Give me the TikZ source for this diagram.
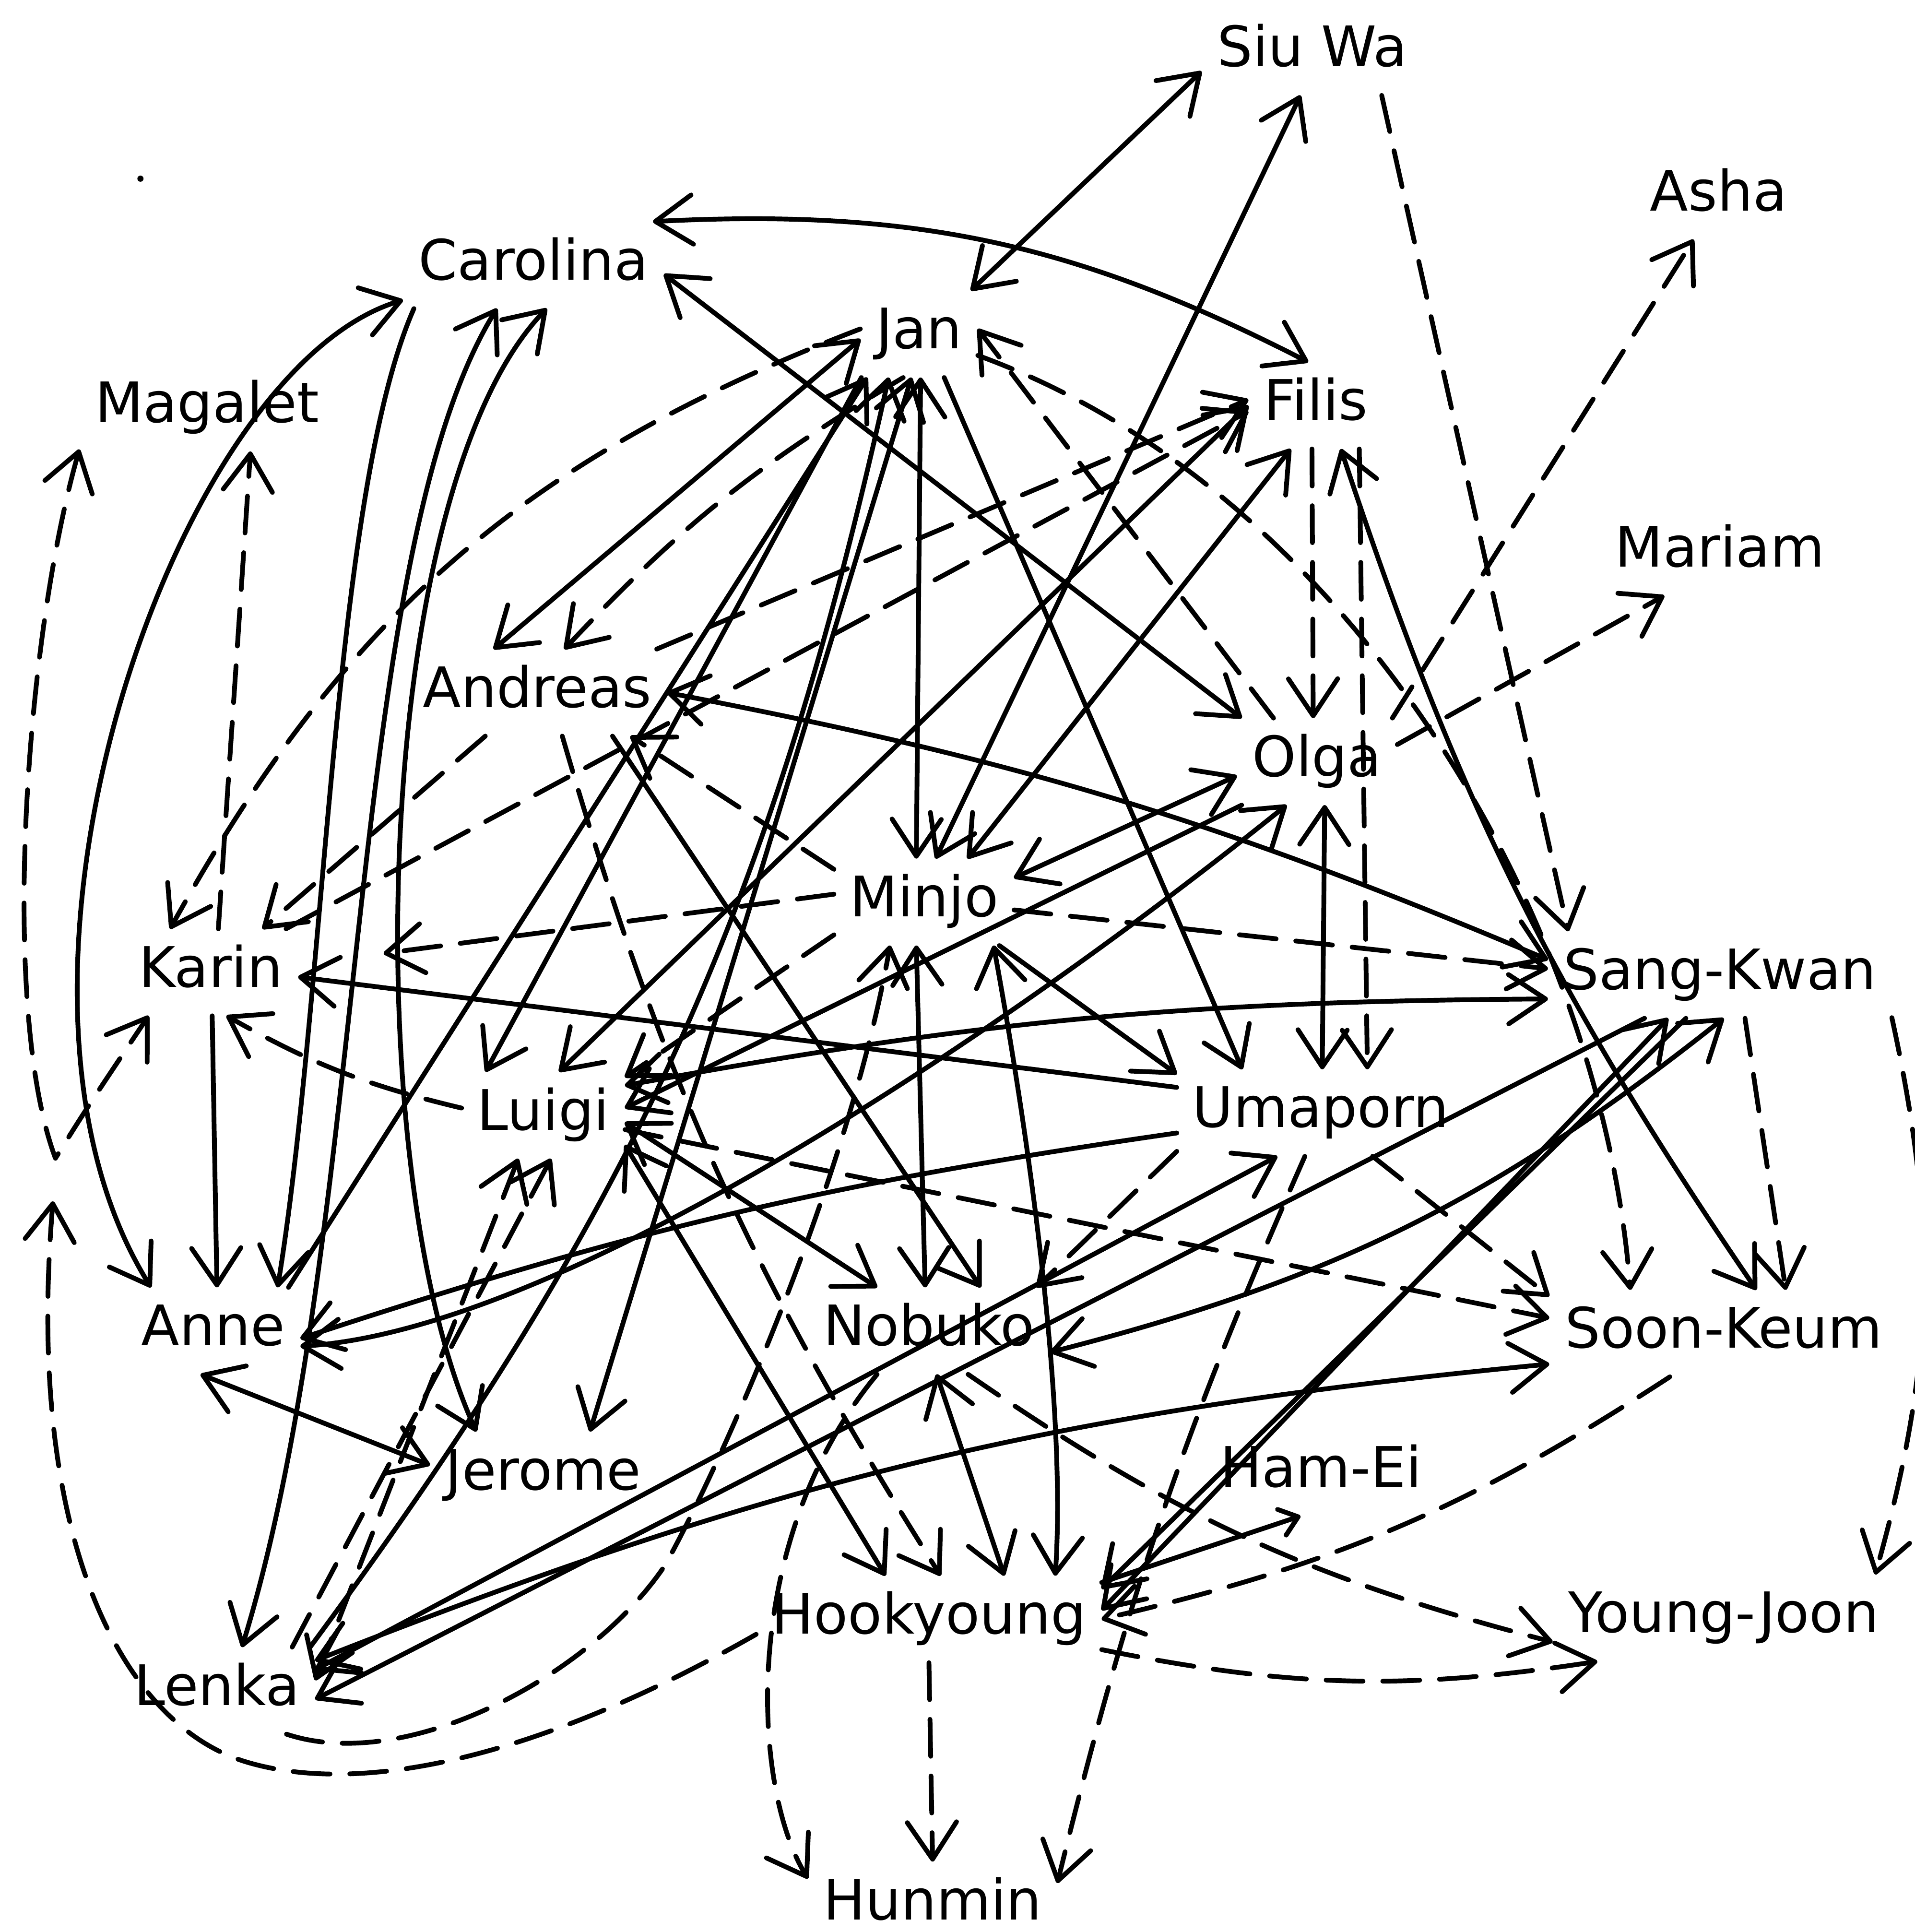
\documentclass[tikz,border=0pt]{standalone}
\usepackage{fontspec}
\setmainfont{DejaVu Sans}
\usepackage{tikz}
\usetikzlibrary{arrows.meta}

\tikzset{
  person/.style={anchor=base,inner sep=1.2mm,text height=3.45mm,text depth=1.07mm,
    font=\fontsize{12.9}{15}\selectfont},
  sline/.style={line width=1.1pt,line cap=round,line join=round},
  dline/.style={sline,dash pattern=on 3mm off 1.6mm},
  small tip/.style={>={Straight Barb[length=1.4mm,width=2.2mm,round]}},
}

\begin{document}
\begin{tikzpicture}[x=0.1mm,y=-0.1mm,>={Straight Barb[length=3mm,width=4mm,round]}]
    \useasboundingbox (0,0) rectangle (1554,1568);

    % names, placed on their base lines
    \node[person] (siuwa)     at (1065,54)   {Siu Wa};
    \node[person] (asha)      at (1395,171)  {Asha};
    \node[person] (carolina)  at (433,227)   {Carolina};
    \node[person] (jan)       at (746,283)   {Jan};
    \node[person] (magalet)   at (168,343)   {Magalet};
    \node[person] (filis)     at (1068,341)  {Filis};
    \node[person] (mariam)    at (1396,460)  {Mariam};
    \node[person] (andreas)   at (436,574)   {Andreas};
    \node[person] (olga)      at (1069,630)  {Olga};
    \node[person] (minjo)     at (750,744)   {Minjo};
    \node[person] (karin)     at (171,801)   {Karin};
    \node[person] (sangkwan)  at (1396,803)  {Sang-Kwan};
    \node[person] (luigi)     at (441,917)   {Luigi};
    \node[person] (umaporn)   at (1072,915)  {Umaporn};
    \node[person] (anne)      at (173,1092)  {Anne};
    \node[person] (nobuko)    at (754,1092)  {Nobuko};
    \node[person] (soonkeum)  at (1399,1094) {Soon-Keum};
    \node[person] (jerome)    at (441,1209)  {Jerome};
    \node[person] (hamei)     at (1072,1207) {Ham-Ei};
    \node[person] (hookyoung) at (754,1326)  {Hookyoung};
    \node[person] (youngjoon) at (1399,1325) {Young-Joon};
    \node[person] (lenka)     at (176,1384)  {Lenka};
    \node[person] (hunmin)    at (757,1558)  {Hunmin};
    \coordinate (tipA) at (43,975);
    \fill (114,145) circle[radius=0.25mm];

    % solid choices
    \draw[sline,<->] (jan.40) -- (siuwa.190);
    \draw[sline,<->] (minjo.75) -- (siuwa.-105);
    \draw[sline,<->] (carolina.20) to[bend left=15] (filis.100);
    \draw[sline,<->] (carolina.-4) -- (olga.150);
    \draw[sline,<->] (carolina.-165) .. controls (140,300) and (-30,800) .. (anne.145);
    \draw[sline,<->] (carolina.-130) .. controls (280,450) and (300,1000) .. (lenka.60);
    \draw[sline,<->] (carolina.-73) .. controls (300,400) and (290,950) .. (jerome.147);
    \draw[sline,->] (carolina.-160) .. controls (270,400) and (265,800) .. (anne.34);
    \draw[sline,->] (karin.-88) -- (anne.85);
    \draw[sline,<->] (jan.-175) -- (andreas.135);
    \draw[sline,<->] (andreas.0) to[bend left=6] (sangkwan.175);
    \draw[sline,->] (andreas.-30) -- (nobuko.40);
    \draw[sline,<->] (luigi.-20) -- (hookyoung.135);
    \draw[sline,<->] (luigi.-5) -- (nobuko.140);
    \draw[sline,<->] (jan.-88) -- (minjo.100);
    \draw[sline,->] (jan.-143) -- (luigi.143);
    \draw[sline,<->] (jan.-100) -- (jerome.43);
    \draw[sline,->] (jan.-60) -- (umaporn.151);
    \draw[sline,->] (anne.30) -- (jan.-140);
    \draw[sline,->] (lenka.25) to[bend right=12] (jan.-125);
    \draw[sline,<->] (luigi.70) -- (filis.180);
    \draw[sline,<->] (olga.-170) -- (minjo.15);
    \draw[sline,<->] (anne.-10) .. controls (450,1080) and (800,850) .. (olga.-125);
    \draw[sline,<->] (lenka.12) -- (umaporn.-135);
    \draw[sline,->] (sangkwan.-150) -- (lenka.-5);
    \draw[sline,<->] (lenka.17) to[bend left=8] (soonkeum.-170);
    \draw[sline,<->] (nobuko.-10) to[bend right=12] (sangkwan.-85);
    \draw[sline,<->] (hookyoung.3) -- (sangkwan.-140);
    \draw[sline,->] (sangkwan.-128) -- (hookyoung.10);
    \draw[sline,<->] (luigi.20) to[bend left=5] (sangkwan.-172);
    \draw[sline,<->] (filis.-60) to[bend right=8] (soonkeum.53);
    \draw[sline,->] (minjo.-30) -- (umaporn.165);
    \draw[sline,<->] (minjo.-100) -- (nobuko.95);
    \draw[sline,<->] (minjo.-32) .. controls (840,950) and (865,1150) .. (hookyoung.19);
    \draw[sline,<->] (nobuko.-80) -- (hookyoung.30);
    \draw[sline,->,small tip] (hookyoung.12) -- (hamei.-115);
    \draw[sline,<->] (olga.-80) -- (umaporn.88);
    \draw[sline,<->] (filis.-120) -- (minjo.45);
    \draw[sline,->] (olga.-150) -- (luigi.5);
    \draw[sline,<->] (anne.-106) -- (jerome.175);
    \draw[sline,->] (umaporn.-172) to[bend right=5] (anne.-5);
    \draw[sline,->] (umaporn.170) -- (karin.-3);

    % dashed choices
    \draw[dline,->] (siuwa.-32) -- (sangkwan.164);
    \draw[dline,->] (olga.30) -- (asha.-120);
    \draw[dline,->] (olga.12) -- (mariam.-142);
    \draw[dline,->] (jan.175) to[bend right=20] (karin.133);
    \draw[dline,->] (jan.-110) to[bend right=8] (andreas.58);
    \draw[dline,<->] (magalet.-162) .. controls (20,520) and (0,820) .. (45,940)
        .. controls (70,900) .. (karin.-145);
    \draw[dline,->] (karin.80) -- (magalet.-45);
    \draw[dline,->] (luigi.175) to[bend left=8] (karin.-70);
    \draw[dline,->] (andreas.-140) -- (karin.40);
    \draw[dline,->] (minjo.160) -- (andreas.-25);
    \draw[dline,->,shorten >=7mm] (minjo.175) -- (karin.5);
    \draw[dline,->] (minjo.-160) -- (luigi.25);
    \draw[dline,->] (minjo.-5) -- (sangkwan.178);
    \draw[dline,->] (karin.30) -- (filis.185);
    \draw[dline,->] (andreas.20) -- (filis.175);
    \draw[dline,->] (filis.-45) -- (umaporn.43);
    \draw[dline,->] (filis.-95) -- (olga.95);
    \draw[dline,->] (olga.135) -- (jan.5);
    \draw[dline,->] (sangkwan.-60) -- (soonkeum.35);
    \draw[dline,->] (sangkwan.-14) to[bend left=14] (youngjoon.16);
    \draw[dline,->] (soonkeum.-141) to[bend left=10] (hookyoung.0);
    \draw[dline,->] (hookyoung.-10) to[bend right=10] (youngjoon.-161);
    \draw[dline,->] (nobuko.-48) to[bend right=10] (youngjoon.-172);
    \draw[dline,->] (umaporn.-165) -- (nobuko.22);
    \draw[dline,->] (umaporn.-110) to[bend right=5] (hunmin.10);
    \draw[dline,->] (hookyoung.-90) -- (hunmin.90);
    \draw[dline,->] (nobuko.-140) .. controls (600,1250) and (610,1450) .. (hunmin.168);
    \draw[dline,->] (hookyoung.185) .. controls (450,1420) and (300,1460) .. (200,1430)
        .. controls (100,1400) and (20,1250) .. (tipA);
    \draw[dline,->] (lenka.-32) .. controls (330,1440) and (480,1360) .. (540,1270)
        .. controls (590,1180) and (690,950) .. (minjo.-128);
    \draw[dline,<->] (luigi.-120) -- (lenka.6);
    \draw[dline,->] (lenka.30) -- (luigi.-80);
    \draw[dline,->] (jan.-20) .. controls (1100,400) and (1300,750) .. (soonkeum.155);
    \draw[dline,->] (umaporn.-40) -- (soonkeum.168);
    \draw[dline,->] (luigi.-10) -- (soonkeum.175);
    \draw[dline,->] (andreas.-60) to[bend right=8] (hookyoung.75);
\end{tikzpicture}
\end{document}
